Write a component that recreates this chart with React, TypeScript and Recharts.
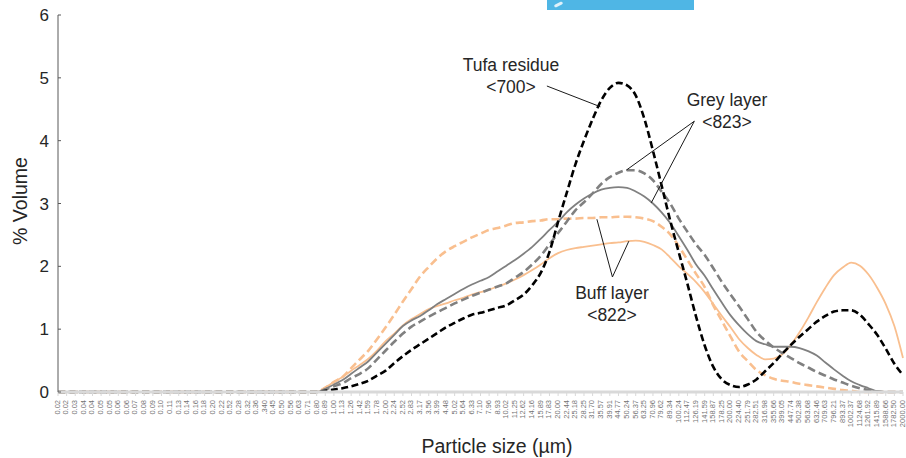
import React from 'react';
import { LineChart, Line, XAxis, YAxis, ReferenceLine } from 'recharts';

// particle size classes (µm), as printed under the axis
const SIZES = [
    '0.02', '0.02', '0.03', '0.04', '0.04', '0.05', '0.05', '0.06', '0.06', '0.07',
    '0.08', '0.09', '0.10', '0.11', '0.13', '0.14', '0.16', '0.18', '0.20', '0.22',
    '0.52', '0.28', '0.32', '0.36', '.340', '0.45', '0.50', '0.56', '0.63', '0.71',
    '0.80', '0.89', '1.00', '1.13', '1.26', '1.42', '1.59', '1.78', '2.00', '2.24',
    '2.52', '2.83', '3.17', '3.56', '3.99', '4.48', '5.02', '5.64', '6.33', '7.10',
    '7.96', '8.93', '10.02', '11.25', '12.62', '14.16', '15.89', '17.83', '20.00', '22.44',
    '25.18', '28.25', '31.70', '35.57', '39.91', '44.77', '50.24', '56.37', '63.25', '70.96',
    '79.62', '89.34', '100.24', '112.47', '126.19', '141.59', '158.87', '178.25', '200.00', '224.40',
    '251.79', '282.51', '316.98', '355.66', '399.05', '447.74', '502.38', '563.68', '632.46', '709.63',
    '796.21', '893.37', '1002.37', '1124.68', '1261.92', '1415.89', '1588.66', '1782.50', '2000.00',
];

const Z30 = new Array(30).fill(0);

// Tufa residue <700>
const TUFA = [
    ...Z30,
    0, 0.02, 0.04, 0.06, 0.09, 0.13, 0.18, 0.26, 0.34, 0.46,
    0.57, 0.67, 0.76, 0.85, 0.94, 1.03, 1.10, 1.17, 1.23, 1.26,
    1.30, 1.34, 1.38, 1.46, 1.55, 1.70, 1.90, 2.23, 2.71, 3.17,
    3.62, 4.00, 4.34, 4.64, 4.84, 4.92, 4.88, 4.72, 4.35, 3.84,
    3.29, 2.73, 2.22, 1.72, 1.20, 0.74, 0.40, 0.20, 0.11, 0.08,
    0.12, 0.20, 0.33, 0.46, 0.61, 0.75, 0.88, 1.00, 1.12, 1.21,
    1.28, 1.30, 1.30, 1.23, 1.08, 0.91, 0.69, 0.45, 0.27,
];

// Grey layer <823>, solid
const GREY = [
    ...Z30,
    0, 0.05, 0.12, 0.19, 0.29, 0.39, 0.49, 0.63, 0.77, 0.91,
    1.05, 1.14, 1.21, 1.30, 1.40, 1.48, 1.56, 1.64, 1.71, 1.77,
    1.83, 1.92, 2.01, 2.10, 2.20, 2.31, 2.44, 2.58, 2.71, 2.86,
    2.98, 3.08, 3.16, 3.22, 3.25, 3.26, 3.25, 3.19, 3.11, 3.00,
    2.86, 2.69, 2.48, 2.26, 2.03, 1.85, 1.63, 1.42, 1.22, 1.06,
    0.92, 0.81, 0.76, 0.72, 0.72, 0.72, 0.70, 0.65, 0.58, 0.47,
    0.36, 0.26, 0.17, 0.11, 0.06, 0.01, 0, 0, 0,
];

// Grey layer <823>, dashed
const GREY_DASH = [
    ...Z30,
    0, 0.04, 0.09, 0.14, 0.22, 0.29, 0.38, 0.52, 0.66, 0.80,
    0.93, 1.04, 1.12, 1.20, 1.27, 1.34, 1.41, 1.47, 1.53, 1.58,
    1.63, 1.68, 1.73, 1.82, 1.91, 2.03, 2.17, 2.35, 2.53, 2.71,
    2.89, 3.02, 3.16, 3.31, 3.42, 3.49, 3.53, 3.53, 3.48, 3.37,
    3.19, 3.00, 2.76, 2.55, 2.35, 2.18, 1.97, 1.75, 1.55, 1.36,
    1.16, 0.96, 0.82, 0.71, 0.62, 0.54, 0.46, 0.39, 0.32, 0.26,
    0.20, 0.15, 0.10, 0.06, 0.03, 0.01, 0, 0, 0,
];

// Buff layer <822>, solid
const BUFF = [
    ...Z30,
    0, 0.07, 0.16, 0.24, 0.34, 0.43, 0.53, 0.66, 0.81, 0.93,
    1.06, 1.16, 1.24, 1.32, 1.37, 1.41, 1.46, 1.50, 1.55, 1.59,
    1.63, 1.68, 1.73, 1.79, 1.86, 1.94, 2.03, 2.13, 2.21, 2.26,
    2.29, 2.31, 2.33, 2.35, 2.37, 2.38, 2.40, 2.41, 2.39, 2.34,
    2.27, 2.14, 2.00, 1.88, 1.75, 1.59, 1.40, 1.21, 1.03, 0.84,
    0.70, 0.59, 0.52, 0.53, 0.60, 0.75, 0.95, 1.18, 1.43, 1.66,
    1.86, 1.98, 2.06, 2.01, 1.87, 1.66, 1.40, 1.05, 0.54,
];

// Buff layer <822>, dashed
const BUFF_DASH = [
    ...Z30,
    0, 0.07, 0.16, 0.24, 0.38, 0.52, 0.66, 0.84, 1.03, 1.23,
    1.44, 1.64, 1.84, 1.99, 2.13, 2.24, 2.32, 2.39, 2.46, 2.52,
    2.58, 2.61, 2.65, 2.69, 2.70, 2.72, 2.73, 2.75, 2.75, 2.76,
    2.76, 2.77, 2.77, 2.78, 2.78, 2.79, 2.79, 2.78, 2.76, 2.72,
    2.63, 2.51, 2.32, 2.10, 1.88, 1.67, 1.38, 1.13, 0.88, 0.64,
    0.49, 0.35, 0.27, 0.21, 0.18, 0.16, 0.13, 0.11, 0.09, 0.07,
    0.05, 0.03, 0.02, 0, 0, 0, 0, 0, 0,
];

const Y_TICKS = [0, 1, 2, 3, 4, 5, 6];
const X_TICKS = SIZES.map((_, i) => i);

const FONT = '"Liberation Sans", Arial, sans-serif';
const TEXT = '#262626';
const BUFF_COLOR = '#f9bf8f';
const GREY_COLOR = '#808080';

const data = SIZES.map((size, i) => ({
    idx: i,
    size,
    tufa: TUFA[i],
    grey: GREY[i],
    greyDash: GREY_DASH[i],
    buff: BUFF[i],
    buffDash: BUFF_DASH[i],
}));

// leader lines from the labels to the curves, in data units (x = class index)
const LEADERS = [
    [{ x: 56.7, y: 4.87 }, { x: 62.9, y: 4.54 }],
    [{ x: 73.8, y: 4.31 }, { x: 65.9, y: 3.53 }],
    [{ x: 73.8, y: 4.31 }, { x: 68.8, y: 3.01 }],
    [{ x: 64.3, y: 1.83 }, { x: 62.5, y: 2.75 }],
    [{ x: 64.3, y: 1.83 }, { x: 66.2, y: 2.40 }],
];

const SizeTick = (props: any) => {
    const { x, y, payload } = props;
    return (
        <g transform={`translate(${x},${y})`}>
            <text transform="rotate(-90)" x={0} y={0} dy="0.25em" textAnchor="end"
                fontSize={7.5} fill="#737373" fontFamily={FONT}>
                {SIZES[payload.value]}
            </text>
        </g>
    );
};

const VolumeTick = (props: any) => {
    const { x, y, payload } = props;
    return (
        <g>
            <line x1={x} x2={x + 3} y1={y} y2={y} stroke="#595959" strokeWidth={1} />
            <text x={x - 9} y={y} dy="0.36em" textAnchor="end" fontSize={17} fill={TEXT} fontFamily={FONT}>
                {payload.value}
            </text>
        </g>
    );
};

const Note = ({ cx, cy, lines }: { cx: number; cy: number; lines: string[] }) => (
    <div style={{
        position: 'absolute', left: cx - 100, top: cy - 11, width: 200, textAlign: 'center',
        fontFamily: FONT, fontSize: 17.5, lineHeight: '22px', color: TEXT,
    }}>
        {lines.map((l) => <div key={l}>{l}</div>)}
    </div>
);

export default function App() {
    return (
        <div style={{ position: 'absolute', left: 0, top: 0, width: 906, height: 458, background: '#fff', overflow: 'hidden' }}>
            {/* stray blue box at the top edge of the source figure */}
            <div style={{ position: 'absolute', left: 547, top: 0, width: 147, height: 10, background: '#4fb6e5' }}>
                <div style={{ position: 'absolute', left: 7, top: 3, width: 9, height: 3, background: '#dff1fa', borderRadius: 2, transform: 'rotate(-25deg)' }} />
            </div>

            <LineChart width={906} height={458} data={data} margin={{ top: 15, right: 3, left: 0, bottom: 0 }}>
                <XAxis
                    dataKey="idx"
                    type="number"
                    domain={[0, 98]}
                    ticks={X_TICKS}
                    interval={0}
                    height={66}
                    tick={<SizeTick />}
                    tickSize={4}
                    tickMargin={4}
                    stroke="#d9d9d9"
                    axisLine={{ stroke: '#d9d9d9', strokeWidth: 3 }}
                    tickLine={{ stroke: '#d9d9d9', strokeWidth: 1 }}
                />
                <YAxis
                    type="number"
                    domain={[0, 6]}
                    ticks={Y_TICKS}
                    width={58}
                    tick={<VolumeTick />}
                    tickLine={false}
                    tickSize={0}
                    tickMargin={0}
                    axisLine={{ stroke: '#595959', strokeWidth: 1 }}
                />

                <Line type="monotone" dataKey="buffDash" stroke={BUFF_COLOR} strokeWidth={2.6} strokeDasharray="8 4"
                    dot={false} activeDot={false} isAnimationActive={false} />
                <Line type="monotone" dataKey="buff" stroke={BUFF_COLOR} strokeWidth={1.8}
                    dot={false} activeDot={false} isAnimationActive={false} />
                <Line type="monotone" dataKey="greyDash" stroke={GREY_COLOR} strokeWidth={2.6} strokeDasharray="8 4"
                    dot={false} activeDot={false} isAnimationActive={false} />
                <Line type="monotone" dataKey="grey" stroke={GREY_COLOR} strokeWidth={1.8}
                    dot={false} activeDot={false} isAnimationActive={false} />
                <Line type="monotone" dataKey="tufa" stroke="#000" strokeWidth={2.6} strokeDasharray="7 3.5"
                    dot={false} activeDot={false} isAnimationActive={false} />

                {LEADERS.map((seg, i) => (
                    <ReferenceLine key={i} segment={seg} stroke="#1a1a1a" strokeWidth={1} ifOverflow="visible" />
                ))}
            </LineChart>

            <Note cx={511} cy={65} lines={['Tufa residue', '<700>']} />
            <Note cx={727} cy={100} lines={['Grey layer', '<823>']} />
            <Note cx={612} cy={293} lines={['Buff layer', '<822>']} />

            <div style={{
                position: 'absolute', left: 20 - 60, top: 201 - 12, width: 120, textAlign: 'center',
                transform: 'rotate(-90deg)', fontFamily: FONT, fontSize: 19.5, lineHeight: '24px', color: TEXT,
            }}>% Volume</div>
            <div style={{
                position: 'absolute', left: 497 - 150, top: 446 - 12, width: 300, textAlign: 'center',
                fontFamily: FONT, fontSize: 19.5, lineHeight: '24px', color: TEXT,
            }}>Particle size (µm)</div>
        </div>
    );
}
